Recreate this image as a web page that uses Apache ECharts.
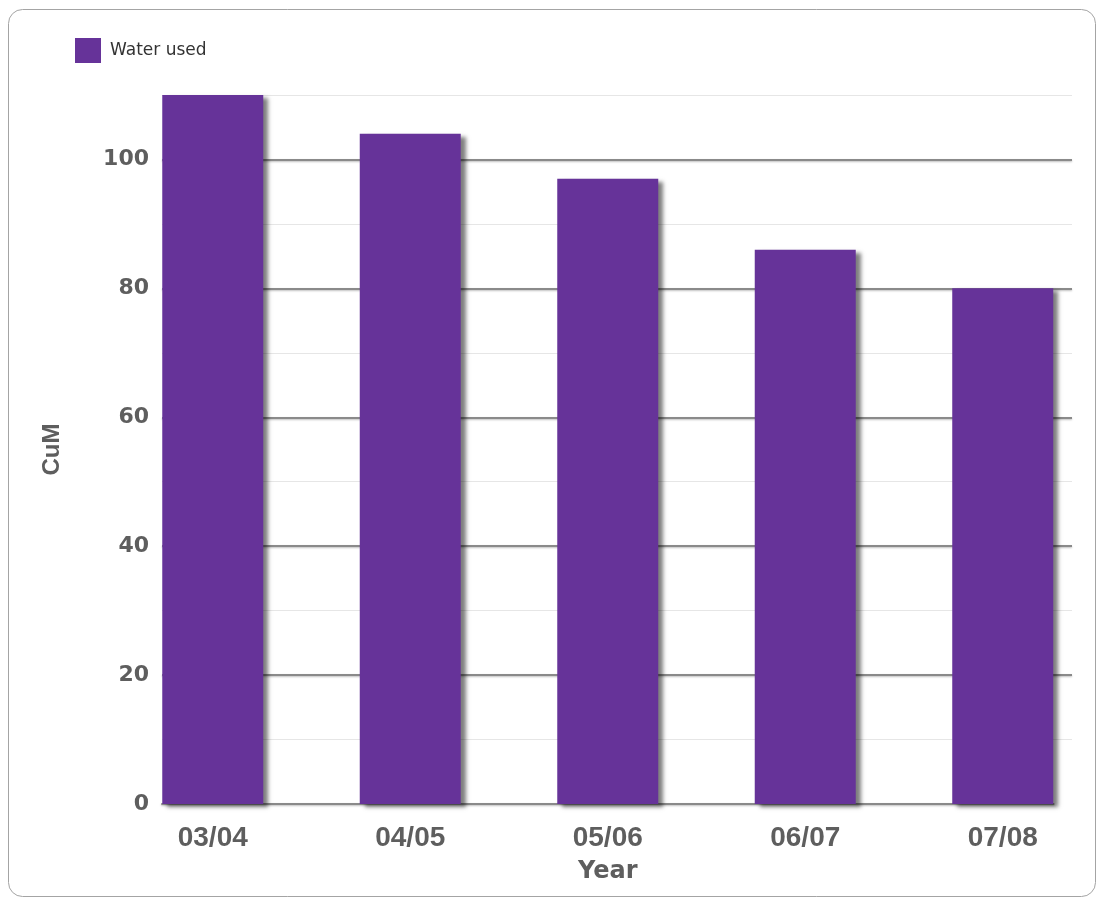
<!DOCTYPE html>
<html>
<head>
<meta charset="utf-8">
<script src="https://cdn.jsdelivr.net/npm/echarts@6/dist/echarts.min.js"></script>
<style>
  html, body { margin: 0; padding: 0; background: #fff; }
  #echarts { width: 1097px; height: 899px; }
</style>
</head>
<body>
<div id="echarts"></div>
<script type="text/javascript">
	// chart data
	var categories = ['03/04', '04/05', '05/06', '06/07', '07/08'];
	var waterUsed = [110, 104, 97, 86, 80];
	var yTicks = [0, 20, 40, 60, 80, 100];
	var yMax = 110;

	var thechart = echarts.init(document.getElementById('echarts'));
	var catIndex = categories.map(function(c, i){ return i; });
	var theoption = {
		backgroundColor: '#fff',
		animation: false,
		graphic: [{
			type: 'rect',
			shape: {x: 8.5, y: 9.5, width: 1087, height: 887, r: 14},
			style: {fill: 'none', stroke: '#a4a4a4', lineWidth: 1},
			silent: true
		}],
		legend: {
			left: 70,
			top: 33,
			icon: 'rect',
			itemWidth: 26,
			itemHeight: 25,
			textStyle: {
				fontFamily: 'DejaVu Sans',
				fontSize: 17,
				color: '#333',
				padding: [0, 0, 0, 4]
			},
			data: ['Water used']
		},
		grid: [
			{left: 162, right: 25, top: 95, bottom: 95, outerBoundsMode: 'none'},
			{left: 162, right: 43.5, top: 95, bottom: 95, outerBoundsMode: 'none'}
		],
		xAxis: [
			{ type: 'value', gridIndex: 0, show: false, min: 0, max: 1 },
			{
				type: 'value',
				gridIndex: 1,
				min: -0.257,
				max: categories.length - 1 + 0.257,
				name: 'Year',
				nameLocation: 'middle',
				nameGap: 56,
				nameTextStyle: {
					fontFamily: 'DejaVu Sans',
					fontWeight: 'bold',
					fontSize: 24,
					color: '#5e5e5e'
				},
				splitLine: {show: false},
				axisTick: {show: false},
				axisLine: {
					show: true,
					lineStyle: {color: '#8a8a8a', width: 2,
						shadowColor: 'rgba(0,0,0,0.25)', shadowOffsetY: 1, shadowBlur: 2}
				},
				axisLabel: {
					customValues: catIndex,
					margin: 20,
					fontFamily: 'Liberation Sans',
					fontWeight: 'bold',
					fontSize: 28,
					color: '#5e5e5e',
					formatter: function(v){ return categories[Math.round(v)]; }
				}
			}
		],
		yAxis: [
			{
				type: 'value',
				gridIndex: 0,
				position: 'right',
				min: 0,
				max: yMax,
				interval: 10,
				axisLine: {show: false},
				axisTick: {show: false},
				axisLabel: {show: false},
				splitLine: {
					show: true,
					showMinLine: false,
					lineStyle: {color: '#e6e6e6', width: 1}
				}
			},
			{
				type: 'value',
				gridIndex: 0,
				position: 'left',
				min: 0,
				max: yMax,
				interval: 20,
				name: 'CuM',
				nameLocation: 'middle',
				nameRotate: 90,
				nameGap: 98,
				nameTextStyle: {
					fontFamily: 'Liberation Sans',
					fontWeight: 'bold',
					fontSize: 24,
					color: '#5e5e5e'
				},
				axisLine: {show: false},
				axisTick: {show: false},
				axisLabel: {
					margin: 13,
					showMaxLabel: false,
					fontFamily: 'DejaVu Sans',
					fontWeight: 'bold',
					fontSize: 22,
					color: '#5e5e5e',
					formatter: function(v){ return yTicks.indexOf(v) >= 0 ? String(v) : ''; }
				},
				splitLine: {
					show: true,
					showMinLine: false,
					showMaxLine: false,
					lineStyle: {color: '#8a8a8a', width: 2,
						shadowColor: 'rgba(0,0,0,0.25)', shadowOffsetY: 1, shadowBlur: 2}
				}
			},
			{ type: 'value', gridIndex: 1, min: 0, max: yMax, show: false }
		],
		series: [
			{
				name: 'Water used',
				type: 'bar',
				xAxisIndex: 1,
				yAxisIndex: 2,
				barWidth: 101,
				itemStyle: {
					color: '#663399',
					shadowColor: 'rgba(0,0,0,0.5)',
					shadowOffsetX: 5,
					shadowOffsetY: 3,
					shadowBlur: 4
				},
				data: waterUsed.map(function(v, i){ return [i, v]; })
			}
		]
	};
	thechart.setOption(theoption, true);
</script>
</body>
</html>
